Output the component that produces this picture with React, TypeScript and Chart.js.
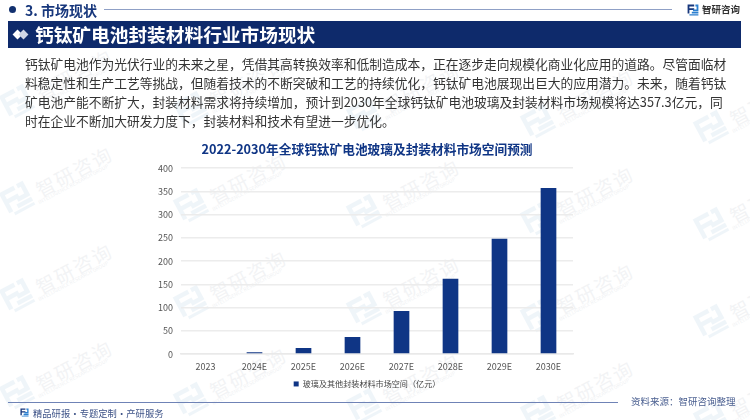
import React, { useEffect, useRef } from "react";
import { Chart, registerables } from "chart.js";

Chart.register(...registerables);

const categories = ["2023", "2024E", "2025E", "2026E", "2027E", "2028E", "2029E", "2030E"];
const marketSpace = [0, 4, 13, 37, 93, 162, 248, 357.3];
const seriesName = "玻璃及其他封装材料市场空间（亿元）";
const chartTitle = "2022-2030年全球钙钛矿电池玻璃及封装材料市场空间预测";
const yTicks = [0, 50, 100, 150, 200, 250, 300, 350, 400];
const sectionLabel = "3. 市场现状";
const bannerTitle = "钙钛矿电池封装材料行业市场现状";
const brand = "智研咨询";
const brandEn = "INTELLIGENCE RESEARCH GROUP";
const footerLeft = "精品研报 · 专题定制 · 产研服务";
const footerRight = "资料来源：智研咨询整理";
const bodyLines = [
  "钙钛矿电池作为光伏行业的未来之星，凭借其高转换效率和低制造成本，正在逐步走向规模化商业化应用的道路。尽管面临材",
  "料稳定性和生产工艺等挑战，但随着技术的不断突破和工艺的持续优化，钙钛矿电池展现出巨大的应用潜力。未来，随着钙钛",
  "矿电池产能不断扩大，封装材料需求将持续增加，预计到2030年全球钙钛矿电池玻璃及封装材料市场规模将达357.3亿元，同",
  "时在企业不断加大研发力度下，封装材料和技术有望进一步优化。",
];
const bodyLineTops = [54, 73, 92, 111];

const FONT = '"Noto Sans CJK SC", "Noto Sans", sans-serif';
const NAVY = "#0f3585";

const Logo = ({ x, y, size, color, accent, opacity = 1 }: any) => (
  <svg
    width={size}
    height={size}
    viewBox="0 0 20 20"
    style={{ position: "absolute", left: x, top: y, opacity }}
  >
    <path d="M1 1h11v3H4v3h8v3H4v6H1z" fill={color} />
    <path d="M14 1h5v11h-9V9h6V4h-2z" fill={accent} />
    <path d="M8 13h11v3H8zM4 17h15v2H4z" fill={accent} />
  </svg>
);

const wmRows = [-1, 0, 1, 2, 3, 4];
const wmCols = [0, 1, 2, 3, 4];

const Watermarks = () => (
  <>
    {wmRows.map((r) =>
      wmCols.map((c) => {
        const lx = c * 173.5 + 2;
        const ly = r * 97 + 184 + c * 6.5;
        return (
          <div key={`${r}-${c}`}>
            <div
              style={{
                position: "absolute",
                left: lx,
                top: ly,
                width: 30,
                height: 30,
                transform: "rotate(-28deg)",
                opacity: 0.07,
              }}
            >
              <Logo x={0} y={0} size={30} color="#2f7fb8" accent="#2f7fb8" />
            </div>
            <div
              style={{
                position: "absolute",
                left: lx + 30,
                top: ly - 25,
                transform: "rotate(-28deg)",
                fontFamily: FONT,
                fontSize: 19,
                letterSpacing: 2,
                lineHeight: "24px",
                color: "#8f9aa8",
                opacity: 0.11,
                whiteSpace: "nowrap",
              }}
            >
              {brand}
            </div>
            <div
              style={{
                position: "absolute",
                left: lx + 32,
                top: ly - 4,
                transform: "rotate(-28deg)",
                fontFamily: FONT,
                fontSize: 5,
                lineHeight: "8px",
                color: "#8f9aa8",
                opacity: 0.14,
                whiteSpace: "nowrap",
              }}
            >
              {brandEn}
            </div>
          </div>
        );
      })
    )}
  </>
);

export default function App() {
  const ref = useRef<HTMLCanvasElement>(null);

  useEffect(() => {
    const chart = new Chart(ref.current!, {
      type: "bar",
      data: {
        labels: categories,
        datasets: [
          {
            label: seriesName,
            data: marketSpace,
            backgroundColor: NAVY,
            barPercentage: 0.32,
            categoryPercentage: 1,
          },
        ],
      },
      options: {
        animation: false,
        responsive: false,
        layout: { padding: { left: 161, right: 177, top: 142, bottom: 22 } },
        plugins: {
          title: {
            display: true,
            text: chartTitle,
            color: NAVY,
            font: { family: FONT, size: 12.7, weight: "bold" },
            padding: { top: 0, bottom: 11 },
          },
          legend: {
            position: "bottom",
            labels: {
              boxWidth: 5,
              boxHeight: 5,
              color: "#444",
              font: { family: FONT, size: 8.1 },
              padding: 9,
            },
          },
          tooltip: { enabled: false },
        },
        scales: {
          x: {
            grid: { display: false },
            border: { color: "#e9e9e9", width: 1.5 },
            ticks: { color: "#555", font: { family: FONT, size: 9 }, padding: -1 },
          },
          y: {
            min: 0,
            max: 400,
            afterBuildTicks: (axis: any) => {
              axis.ticks = yTicks.map((value) => ({ value }));
            },
            afterFit: (axis: any) => {
              axis.width = 20;
              axis._computeLabelArea = () => undefined;
            },
            grid: { color: "#ececec", lineWidth: 1.5, drawTicks: false },
            border: { display: false },
            ticks: { color: "#555", font: { family: FONT, size: 9 }, padding: 8 },
          },
        },
      },
    });
    return () => chart.destroy();
  }, []);

  return (
    <div
      style={{
        position: "fixed",
        left: 0,
        top: 0,
        width: 750,
        height: 420,
        overflow: "hidden",
        background: "#fff",
        fontFamily: FONT,
      }}
    >
      <Watermarks />
      <canvas ref={ref} width={750} height={420} style={{ position: "absolute", left: 0, top: 0 }} />

      {/* Section header */}
      <div style={{ position: "absolute", left: 9, top: 6, width: 7, height: 7, borderRadius: 4, background: "#12306f" }} />
      <div style={{ position: "absolute", left: 25, top: 1, fontSize: 14, fontWeight: 700, lineHeight: "18px", color: "#17377c", whiteSpace: "nowrap" }}>
        {sectionLabel}
      </div>
      <div style={{ position: "absolute", left: 104, top: 9, width: 568, height: 1, background: "#8fa0c6" }} />
      <Logo x={687} y={4} size={12} color="#17377c" accent="#2b7fd0" />
      <div style={{ position: "absolute", left: 702, top: 1, fontSize: 9.5, fontWeight: 700, lineHeight: "16px", color: "#333", whiteSpace: "nowrap" }}>
        {brand}
      </div>

      {/* Banner */}
      <div style={{ position: "absolute", left: 8, top: 21, width: 733, height: 27, background: "#0e2a6b" }} />
      <div style={{ position: "absolute", left: 14, top: 31, width: 7, height: 7, background: "#fff", transform: "rotate(45deg)" }} />
      <div style={{ position: "absolute", left: 20, top: 31, width: 7, height: 7, background: "#cfd6e6", transform: "rotate(45deg)" }} />
      <div style={{ position: "absolute", left: 35, top: 20, fontSize: 18.7, fontWeight: 700, lineHeight: "28px", color: "#fff", whiteSpace: "nowrap" }}>
        {bannerTitle}
      </div>

      {/* Body text */}
      {bodyLines.map((line, i) => (
        <div
          key={i}
          style={{
            position: "absolute",
            left: 25,
            top: bodyLineTops[i],
            fontSize: 12.75,
            lineHeight: "19px",
            color: "#333",
            whiteSpace: "nowrap",
          }}
        >
          {line}
        </div>
      ))}

      {/* Footer */}
      <div style={{ position: "absolute", left: 8, top: 402, width: 610, height: 1, background: "#6f83b6" }} />
      <Logo x={20} y={408} size={9} color="#17377c" accent="#2b7fd0" />
      <div style={{ position: "absolute", left: 33, top: 405, fontSize: 9.3, wordSpacing: -2, lineHeight: "16px", color: "#3f5488", whiteSpace: "nowrap" }}>
        {footerLeft}
      </div>
      <div style={{ position: "absolute", left: 631, top: 393, fontSize: 9.5, lineHeight: "16px", color: "#4a5f90", whiteSpace: "nowrap" }}>
        {footerRight}
      </div>
    </div>
  );
}
